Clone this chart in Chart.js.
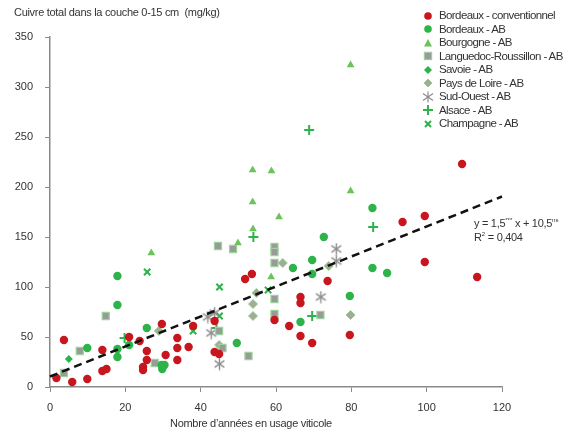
<!DOCTYPE html>
<html>
<head>
<meta charset="utf-8">
<script src="https://cdn.jsdelivr.net/npm/chart.js@4"></script>
<style>
  body { margin: 0; background: #fff; }
  #wrap { position: relative; width: 569px; height: 430px; font-family: "Liberation Sans", Arial, sans-serif; color: #333; }
  #c { position: absolute; left: 0; top: 0; }
  .txt { position: absolute; font-size: 11px; white-space: nowrap; letter-spacing: -0.3px; }
  #legend { position: absolute; left: 422px; top: 9px; font-size: 11.5px; letter-spacing: -0.6px; }
  #legend div { height: 13.5px; line-height: 13.5px; display: flex; align-items: center; }
  #legend svg { width: 12px; height: 12px; margin-right: 5px; }
  sup { font-size: 6px; vertical-align: 5px; letter-spacing: 0; }
</style>
</head>
<body>
<div id="wrap">
  <canvas id="c" width="569" height="430"></canvas>
  <div class="txt" style="left:14px;top:6px;">Cuivre total dans la couche 0-15 cm&nbsp; (mg/kg)</div>
  <div class="txt" style="left:170px;top:417px;">Nombre d’années en usage viticole</div>
  <div class="txt" style="left:474px;top:215px;line-height:11px;">y = 1,5<sup>***</sup> x + 10,5<sup>ns</sup><br>R<sup>2</sup> = 0,404</div>
  <div id="legend"></div>
</div>
<script>
// ages (x) and copper content (y) per group
const bordeauxConvX = [1.7, 3.7, 5.9, 9.9, 13.9, 13.9, 15, 21, 23.8, 29.7, 25.7, 25.7, 24.7, 24.7, 30.7, 33.8, 33.8, 33.8, 36.8, 38, 43.7, 43.7, 44.9, 51.8, 53.6, 59.6, 63.5, 66.5, 66.5, 66.5, 69.6, 73.7, 79.6, 93.6, 99.5, 99.5, 109.4, 113.4]
const bordeauxConvY = [9, 47, 5, 8, 37, 16, 18, 50, 46, 63, 36, 27, 20, 17, 32, 49, 39, 27, 40, 61, 66, 35, 33, 108, 113, 67, 61, 90, 84, 51, 44, 106, 52, 165, 171, 125, 223, 110]

const bordeauxAbX = [9.9, 17.9, 17.9, 17.9, 17.9, 21, 25.7, 29.6, 30.4, 29.8, 49.6, 64.5, 66.5, 69.6, 69.6, 72.7, 79.6, 85.6, 85.6, 89.5]
const bordeauxAbY = [39, 111, 82, 38, 30, 42, 59, 22, 22, 18, 44, 119, 65, 127, 113, 150, 91, 179, 119, 114]

const bourgogneX = [26.9, 49.9, 53.8, 53.8, 53.9, 58.8, 60.8, 58.7, 79.8, 79.8]
const bourgogneY = [134, 144, 217, 185, 158, 216, 170, 110, 196, 322]

const languedocX = [3.7, 7.9, 14.8, 27.8, 44.6, 48.6, 59.6, 59.6, 59.6, 59.6, 59.6, 44.9, 45.8, 52.7, 71.8]
const languedocY = [14, 36, 71, 24, 141, 138, 140, 135, 124, 88, 73, 56, 39, 31, 72]

const savoieX = [5]
const savoieY = [28]

const paysLoireX = [28.9, 44.9, 54.8, 53.9, 53.9, 61.8, 74, 79.8]
const paysLoireY = [56, 42, 94, 83, 71, 124, 121, 72]

const sudOuestX = [41.9, 43.7, 42.8, 45, 71.9, 76, 76]
const sudOuestY = [70, 74, 54, 23, 90, 138, 126]

const alsaceX = [19.8, 44.2, 54, 68.8, 69.6, 85.8]
const alsaceY = [49, 59, 150, 257, 71, 160]

const champagneX = [25.8, 45, 45, 38, 57.9]
const champagneY = [115, 100, 71, 56, 97]

// regression y = 1.5x + 10.5
const trendX = [0, 120]
const trendY = [10.5, 190.5]

const xTicks = [0, 20, 40, 60, 80, 100, 120]
const yTicks = [0, 50, 100, 150, 200, 250, 300, 350]

const pts = (xs, ys) => xs.map((x, i) => ({ x: x, y: ys[i] }))

const starImg = (() => {
    const c = document.createElement('canvas')
    c.width = 13; c.height = 13
    const g = c.getContext('2d')
    g.strokeStyle = '#8c8c8c'
    g.lineWidth = 1.4
    for (const a of [90, 35, 145]) {
        const r = a * Math.PI / 180
        g.beginPath()
        g.moveTo(6.5 - Math.cos(r) * 6, 6.5 - Math.sin(r) * 6)
        g.lineTo(6.5 + Math.cos(r) * 6, 6.5 + Math.sin(r) * 6)
        g.stroke()
    }
    return c
})()

const RED = '#c8161f'
const GREEN = '#2db34a'
const LIGHTGREEN = '#6cc35c'

const series = [
    { label: 'Bordeaux - conventionnel', data: pts(bordeauxConvX, bordeauxConvY), pointStyle: 'circle', pointRadius: 4.2, backgroundColor: RED, borderColor: RED, borderWidth: 0 },
    { label: 'Bordeaux - AB', data: pts(bordeauxAbX, bordeauxAbY), pointStyle: 'circle', pointRadius: 4.2, backgroundColor: GREEN, borderColor: GREEN, borderWidth: 0 },
    { label: 'Bourgogne - AB', data: pts(bourgogneX, bourgogneY), pointStyle: 'triangle', pointRadius: 4.5, backgroundColor: LIGHTGREEN, borderColor: LIGHTGREEN, borderWidth: 0 },
    { label: 'Languedoc-Roussillon - AB', data: pts(languedocX, languedocY), pointStyle: 'rect', pointRadius: 5, backgroundColor: '#9a9a9a', borderColor: '#9bd49a', borderWidth: 1.2 },
    { label: 'Savoie  - AB', data: pts(savoieX, savoieY), pointStyle: 'rectRot', pointRadius: 4, backgroundColor: GREEN, borderColor: GREEN, borderWidth: 0 },
    { label: 'Pays de Loire - AB', data: pts(paysLoireX, paysLoireY), pointStyle: 'rectRot', pointRadius: 4.5, backgroundColor: '#a3aa95', borderColor: '#8fcf8c', borderWidth: 1 },
    { label: 'Sud-Ouest - AB', data: pts(sudOuestX, sudOuestY), pointStyle: starImg, pointRadius: 6, backgroundColor: '#8c8c8c', borderColor: '#8c8c8c' },
    { label: 'Alsace - AB', data: pts(alsaceX, alsaceY), pointStyle: 'cross', pointRadius: 5, backgroundColor: GREEN, borderColor: GREEN, borderWidth: 2 },
    { label: 'Champagne - AB', data: pts(champagneX, champagneY), pointStyle: 'crossRot', pointRadius: 4.5, backgroundColor: GREEN, borderColor: GREEN, borderWidth: 2 }
]

const datasets = series.map(s => Object.assign({ type: 'scatter', pointHoverRadius: s.pointRadius, order: 1 }, s))
datasets.push({
    type: 'line',
    label: 'trend',
    data: pts(trendX, trendY),
    borderColor: '#111',
    borderWidth: 2.5,
    borderDash: [8, 5],
    pointRadius: 0,
    fill: false,
    order: 0
})

const axisColor = '#8a8a8a'

new Chart(document.getElementById('c'), {
    type: 'scatter',
    data: { datasets: datasets },
    options: {
        responsive: false,
        animation: false,
        clip: false,
        layout: { autoPadding: false, padding: { top: 37, right: 67, left: 0, bottom: 0 } },
        plugins: { legend: { display: false }, tooltip: { enabled: false } },
        scales: {
            x: {
                type: 'linear', min: 0, max: 120,
                afterFit: s => { s.height = 43 },
                afterBuildTicks: s => { s.ticks = xTicks.map(v => ({ value: v })) },
                grid: { drawOnChartArea: false, tickLength: 5, color: axisColor },
                border: { color: axisColor, width: 1.5 },
                ticks: { color: '#333', padding: 9, font: { family: 'Liberation Sans', size: 11 } }
            },
            y: {
                type: 'linear', min: 0, max: 350,
                afterFit: s => { s.width = 50 },
                afterBuildTicks: s => { s.ticks = yTicks.map(v => ({ value: v })) },
                grid: { drawOnChartArea: false, tickLength: 5, color: axisColor },
                border: { color: axisColor, width: 1.5 },
                ticks: { color: '#333', padding: 12, font: { family: 'Liberation Sans', size: 11 } }
            }
        }
    }
})

// legend markers
const svgFor = s => {
    const f = s.backgroundColor, b = s.borderColor
    switch (s.label) {
        case 'Bordeaux - conventionnel':
        case 'Bordeaux - AB':
            return `<circle cx="6" cy="6" r="3.8" fill="${f}"/>`
        case 'Bourgogne - AB':
            return `<polygon points="6,2 10,9.5 2,9.5" fill="${f}"/>`
        case 'Languedoc-Roussillon - AB':
            return `<rect x="2.3" y="2.3" width="7.4" height="7.4" fill="${f}" stroke="${b}" stroke-width="1"/>`
        case 'Savoie  - AB':
        case 'Pays de Loire - AB':
            return `<polygon points="6,2 10,6 6,10 2,6" fill="${f}" stroke="${b}" stroke-width="${s.borderWidth}"/>`
        case 'Sud-Ouest - AB':
            return `<g stroke="${b}" stroke-width="1.2"><line x1="6" y1="0.5" x2="6" y2="11.5"/><line x1="1" y1="2.5" x2="11" y2="9.5"/><line x1="1" y1="9.5" x2="11" y2="2.5"/></g>`
        case 'Alsace - AB':
            return `<g stroke="${b}" stroke-width="2"><line x1="6" y1="1" x2="6" y2="11"/><line x1="1" y1="6" x2="11" y2="6"/></g>`
        default:
            return `<g stroke="${b}" stroke-width="2"><line x1="3" y1="3" x2="9" y2="9"/><line x1="3" y1="9" x2="9" y2="3"/></g>`
    }
}
document.getElementById('legend').innerHTML = series.map(s =>
    `<div><svg viewBox="0 0 12 12">${svgFor(s)}</svg><span>${s.label}</span></div>`).join('')
</script>
</body>
</html>
